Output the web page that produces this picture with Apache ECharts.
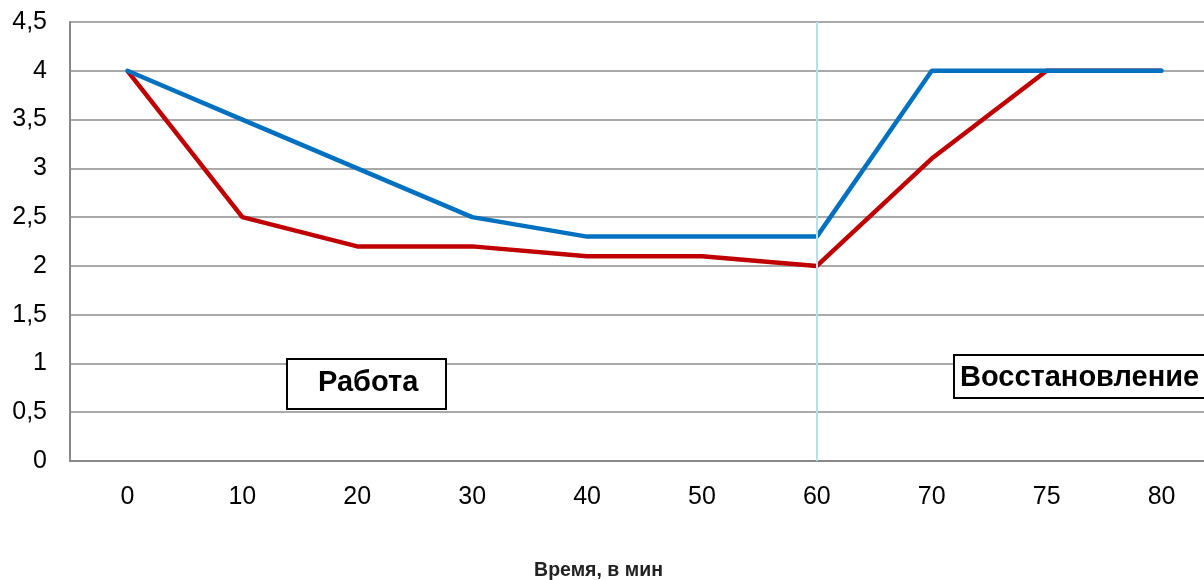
<!DOCTYPE html>
<html><head><meta charset="utf-8">
<script src="https://cdn.jsdelivr.net/npm/echarts@6/dist/echarts.min.js"></script>
<style>html,body{margin:0;padding:0;background:#fff}#c{width:1204px;height:580px}</style>
</head><body><div id="c"></div>
<script>
const categories = ['0','10','20','30','40','50','60','70','75','80'];
const blueValues = [4, 3.5, 3, 2.5, 2.3, 2.3, 2.3, 4, 4, 4];
const redValues = [4, 2.5, 2.2, 2.2, 2.1, 2.1, 2.0, 3.1, 4, 4];
const xTitle = 'Время, в мин';
const boxWork = 'Работа';
const boxRecovery = 'Восстановление';

const chart = echarts.init(document.getElementById('c'), null, {renderer:'canvas'});
chart.setOption({
  animation: false,
  grid: {left: 70, width: 1149, top: 22, height: 439, containLabel: false, outerBoundsMode: 'none'},
  xAxis: {
    type: 'category', data: categories, boundaryGap: true,
    axisLine: {show: true, lineStyle: {color: '#888', width: 2}},
    axisTick: {show: false},
    axisLabel: {color: '#000', fontSize: 25, fontFamily: 'Liberation Sans, Arial', margin: 24},
    splitLine: {show: false},
    name: xTitle, nameLocation: 'middle', nameGap: 100,
    nameTextStyle: {color: '#222', fontSize: 19.5, fontWeight: 'bold', fontFamily: 'Liberation Sans, Arial',
      padding: [0, 92, 0, 0]}
  },
  yAxis: {
    type: 'value', min: 0, max: 4.5, interval: 0.5,
    axisLine: {show: true, lineStyle: {color: '#888', width: 2}},
    axisTick: {show: false},
    axisLabel: {color: '#000', fontSize: 25, fontFamily: 'Liberation Sans, Arial', margin: 23,
      formatter: v => String(v).replace('.', ',')},
    splitLine: {show: true, lineStyle: {color: '#8c8c8c', width: 1.5}}
  },
  series: [
    {
      name: 'red', type: 'line', data: redValues, symbol: 'none',
      lineStyle: {color: '#C00000', width: 4.5}, z: 2
    },
    {
      name: 'blue', type: 'line', data: blueValues, symbol: 'none',
      lineStyle: {color: '#0070C0', width: 4.5, cap: 'round'}, z: 3,
      markLine: {
        silent: true, symbol: 'none', label: {show: false},
        lineStyle: {color: '#B7E1E8', width: 2, type: 'solid'},
        data: [[{coord: [6, 0]}, {coord: [6, 4.5]}]]
      }
    }
  ],
  graphic: [
    {type: 'rect', left: 286, top: 358, shape: {width: 159, height: 50},
      style: {fill: '#fff', stroke: '#000', lineWidth: 2}, z: 10},
    {type: 'text', x: 318, y: 383, style: {text: boxWork, fill: '#000', verticalAlign: 'middle',
      font: 'bold 29px "Liberation Sans", Arial'}, z: 11},
    {type: 'rect', left: 953, top: 354, shape: {width: 270, height: 43},
      style: {fill: '#fff', stroke: '#000', lineWidth: 2}, z: 10},
    {type: 'text', x: 960, y: 378, style: {text: boxRecovery, fill: '#000', verticalAlign: 'middle',
      font: 'bold 29px "Liberation Sans", Arial'}, z: 11}
  ]
});
</script></body></html>
